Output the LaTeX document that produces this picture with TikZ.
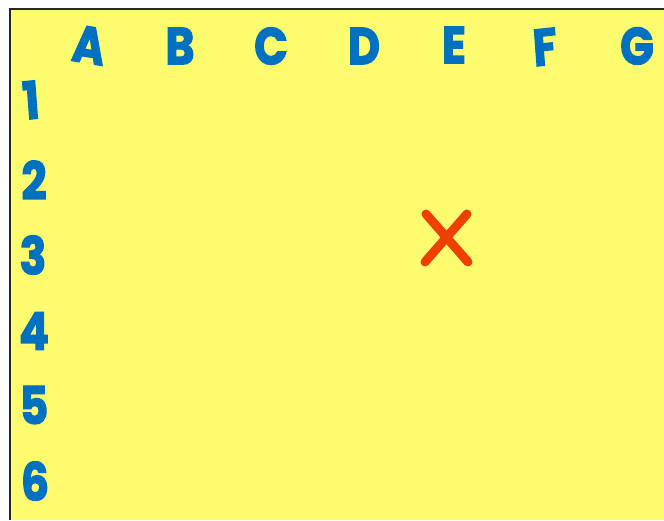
\documentclass[tikz,border=0pt]{standalone}
\usepackage{fontspec}
\setmainfont{Poppins}
\newfontfamily\heavyfont{Poppins}[FakeBold=2.5]
\definecolor{bgyellow}{HTML}{FDFB6E}
\definecolor{lblue}{HTML}{0070C0}
\definecolor{xred}{HTML}{EE4000}
\begin{document}
\begin{tikzpicture}[x=1pt,y=-1pt,
  lbl/.style={text=lblue,font=\fontsize{52}{52}\selectfont\heavyfont\bfseries,inner sep=0pt,anchor=center,xscale=0.85},
  xstroke/.style={draw=xred,line width=9pt,line cap=round}]
\useasboundingbox (0,0) rectangle (664,520);
\fill[white] (0,0) rectangle (664,520);
\fill[bgyellow] (10,9) rectangle (664,520);
\draw[line width=2.5pt,black!85] (10,520) -- (10,9) -- (664,9);
\node[lbl,rotate=-8] (cA) at (89,45) {A};
\node[lbl] (cB) at (180,46) {B};
\node[lbl] (cC) at (271,46) {C};
\node[lbl] (cD) at (364,46) {D};
\node[lbl] (cE) at (454,45) {E};
\node[lbl,rotate=5] (cF) at (545,47) {F};
\node[lbl] (cG) at (637,46) {G};
\node[lbl,rotate=5] (r1) at (31,100) {1};
\node[lbl] (r2) at (34,180) {2};
\node[lbl] (r3) at (33,255) {3};
\node[lbl] (r4) at (34,331) {4};
\node[lbl] (r5) at (34,405) {5};
\node[lbl] (r6) at (35,481) {6};
\coordinate (xa) at (426,214);
\coordinate (xb) at (468,262);
\coordinate (xc) at (467,214);
\coordinate (xd) at (425,262);
\draw[xstroke] (xa) -- (xb);
\draw[xstroke] (xc) -- (xd);
\end{tikzpicture}
\end{document}
